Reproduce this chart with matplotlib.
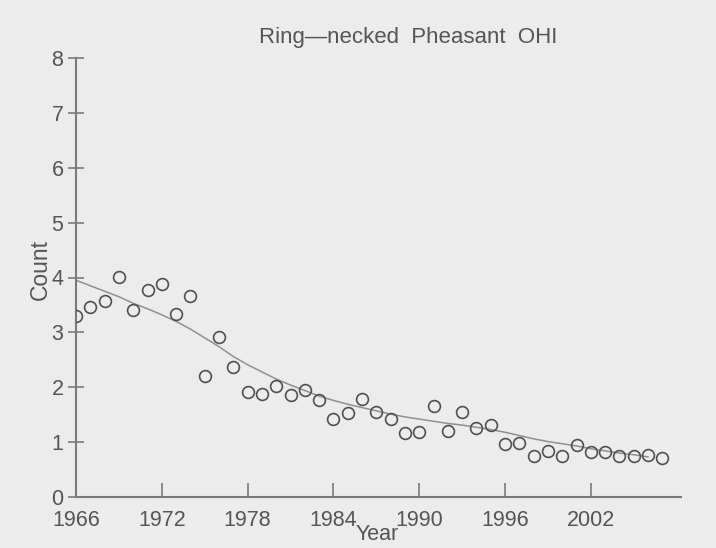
import matplotlib
matplotlib.use("Agg")
import matplotlib.pyplot as plt

years = list(range(1966, 2008))
counts = [3.30, 3.46, 3.57, 4.01, 3.41, 3.77, 3.88, 3.33, 3.66, 2.20,
          2.91, 2.37, 1.91, 1.88, 2.02, 1.86, 1.95, 1.77, 1.42, 1.53,
          1.78, 1.55, 1.42, 1.17, 1.18, 1.66, 1.20, 1.55, 1.26, 1.31,
          0.97, 0.98, 0.75, 0.84, 0.75, 0.95, 0.82, 0.82, 0.75, 0.75,
          0.77, 0.71]

trend_years = list(range(1966, 2007))
trend = [3.95, 3.85, 3.75, 3.65, 3.53, 3.43, 3.32, 3.20, 3.06, 2.90,
         2.74, 2.56, 2.41, 2.28, 2.15, 2.04, 1.94, 1.84, 1.76, 1.69,
         1.63, 1.57, 1.51, 1.46, 1.42, 1.38, 1.34, 1.31, 1.27, 1.23,
         1.18, 1.12, 1.06, 1.01, 0.97, 0.93, 0.88, 0.84, 0.80, 0.77,
         0.73]

xticks = [1966, 1972, 1978, 1984, 1990, 1996, 2002]
yticks = [0, 1, 2, 3, 4, 5, 6, 7, 8]

plt.rcParams['font.family'] = ['Liberation Sans', 'DejaVu Sans']
txt = '#555555'
bg = '#ececec'
fs = 15.5

fig = plt.figure(figsize=(7.16, 5.48), dpi=100, facecolor=bg)
ax = fig.add_axes([76/716, 1-497/548, (681-76)/716, (497-58)/548], facecolor=bg)

ax.plot(trend_years, trend, color='#909090', lw=1.1, zorder=2)
ax.plot(years, counts, linestyle='none', marker='o', ms=8.5, mfc='none',
        mec='#505050', mew=1.2, zorder=3)

ax.set_xlim(1966, 2008.3)
ax.set_ylim(0, 8)
ax.set_xticks(xticks)
ax.set_yticks(yticks)
for s in ['top', 'right']:
    ax.spines[s].set_visible(False)
for s in ['left', 'bottom']:
    ax.spines[s].set_color('#7a7a7a')
    ax.spines[s].set_linewidth(1.5)
ax.tick_params(axis='x', direction='in', length=10, width=1.2, color='#7a7a7a',
               labelsize=fs, labelcolor=txt, pad=9)
ax.tick_params(axis='y', direction='inout', length=12, width=1.2, color='#7a7a7a',
               labelsize=fs, labelcolor=txt, pad=3)

fig.text(408/716, 1-37/548, 'Ring\u2014necked  Pheasant  OHI', ha='center', va='center',
         fontsize=16, color=txt)
fig.text(40/716, 1-270/548, 'Count', ha='center', va='center', rotation=90,
         fontsize=16.5, color=txt)
fig.text(377/716, 1-535/548, 'Year', ha='center', va='center',
         fontsize=fs, color=txt)

fig.savefig('out.png', dpi=100, facecolor=bg)
